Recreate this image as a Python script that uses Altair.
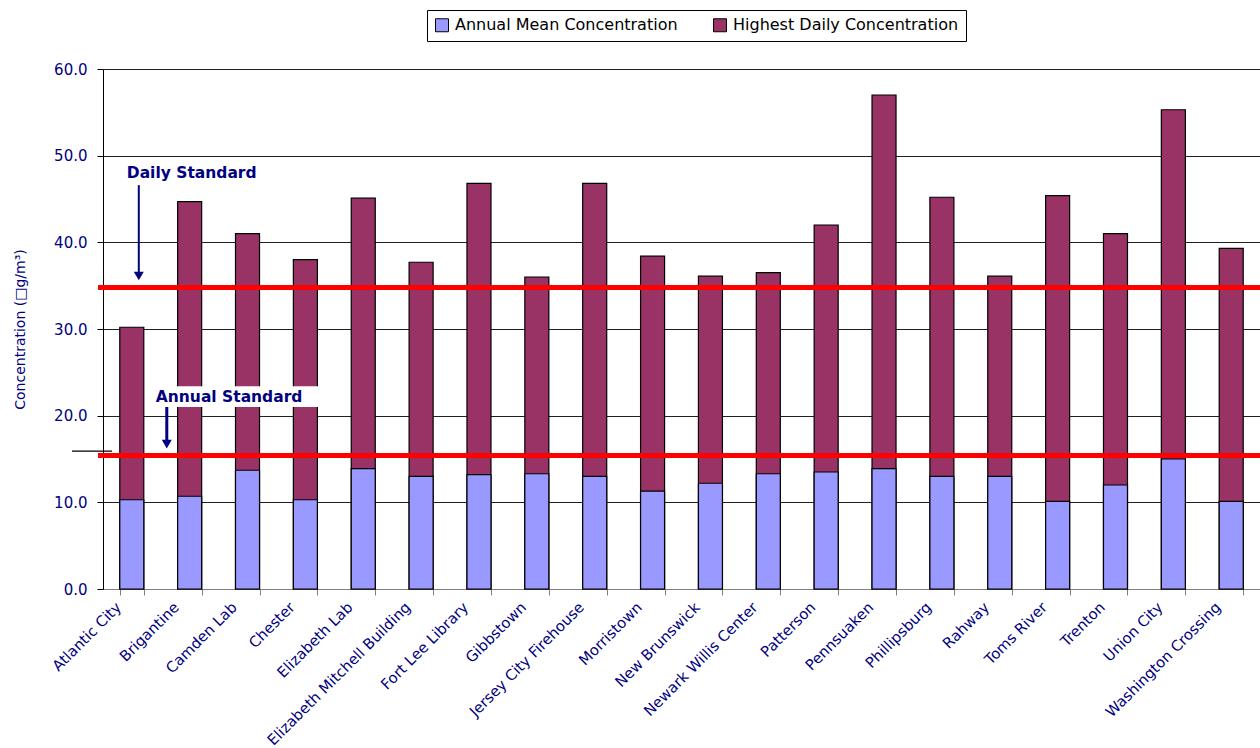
import altair as alt
import pandas as pd

sites = ["Atlantic City", "Brigantine", "Camden Lab", "Chester", "Elizabeth Lab",
         "Elizabeth Mitchell Building", "Fort Lee Library", "Gibbstown",
         "Jersey City Firehouse", "Morristown", "New Brunswick", "Newark Willis Center",
         "Patterson", "Pennsuaken", "Phillipsburg", "Rahway", "Toms River", "Trenton",
         "Union City", "Washington Crossing"]
annual_mean = [10.3, 10.7, 13.7, 10.3, 13.9, 13.0, 13.2, 13.3, 13.0, 11.3,
               12.2, 13.3, 13.5, 13.9, 13.0, 13.0, 10.1, 12.0, 15.0, 10.1]
highest_daily = [30.2, 44.7, 41.0, 38.0, 45.1, 37.7, 46.8, 36.0, 46.8, 38.4,
                 36.1, 36.5, 42.0, 57.0, 45.2, 36.1, 45.4, 41.0, 55.3, 39.3]
series_names = ["Annual Mean Concentration", "Highest Daily Concentration"]
series_colors = ["#9999FF", "#993366"]
standard_names = ["Daily Standard", "Annual Standard"]
standard_values = [34.8, 15.4]
y_ticks = [0, 10, 20, 30, 40, 50, 60]

NAVY = "#000080"
FONT = "DejaVu Sans"

rows = []
for s, v in zip(sites, highest_daily):
    rows.append({"site": s, "series": series_names[1], "value": v})
for s, v in zip(sites, annual_mean):
    rows.append({"site": s, "series": series_names[0], "value": v})
df = pd.DataFrame(rows)

x_enc = alt.X("site:N", sort=sites, scale=alt.Scale(paddingInner=0.585, paddingOuter=0.29),
              axis=alt.Axis(title=None, labelAngle=-45, labelAlign="right", labelBaseline="middle",
                            labelFontSize=14.8, labelColor=NAVY, labelFont=FONT, labelPadding=10,
                            labelOffset=-13, tickBand="extent", tickSize=6, tickColor="#808080",
                            domainColor="#808080", labelLimit=400, labelOverlap=False))
y_scale = alt.Scale(domain=[0, 60], nice=False)
y_enc = alt.Y("value:Q", scale=y_scale, stack=None,
              axis=alt.Axis(title="Concentration (\u25a1g/m\u00b3)", values=y_ticks, format=".1f",
                            labelFontSize=15, labelColor=NAVY, labelFont=FONT, labelPadding=10,
                            titleFontSize=14, titleColor=NAVY, titleFont=FONT,
                            titleFontWeight="normal", titlePadding=26,
                            tickSize=6, tickColor="#000", domainColor="#000",
                            grid=True, gridColor="#202020", gridWidth=1))

bars = alt.Chart(df).mark_bar(stroke="black", strokeWidth=1.2).encode(
    x=x_enc, y=y_enc,
    color=alt.Color("series:N", scale=alt.Scale(domain=series_names, range=series_colors),
                    legend=alt.Legend(title=None, orient="none", legendX=324, legendY=-59,
                                      direction="horizontal", symbolType="square",
                                      symbolSize=169, symbolStrokeColor="black",
                                      symbolStrokeWidth=1, labelFontSize=16, labelFont=FONT,
                                      labelColor="black", strokeColor="black", padding=7,
                                      columnPadding=33, labelOffset=5, labelLimit=400,
                                      fillColor="white")),
)

std_df = pd.DataFrame({"name": standard_names, "value": standard_values})
std_rules = alt.Chart(std_df).mark_rule(color="#FF0000", strokeWidth=5).encode(
    y=alt.Y("value:Q", scale=y_scale), x=alt.value(-5), x2=alt.value(1157))

# small stray tick on the left of the axis
stray = alt.Chart(pd.DataFrame({"v": [15.9]})).mark_rule(color="black", strokeWidth=1.2).encode(
    y=alt.Y("v:Q", scale=y_scale), x=alt.value(-31), x2=alt.value(9))

# annotation: white box behind "Annual Standard"
ann_box = alt.Chart(pd.DataFrame({"y1": [21.0], "y2": [23.4]})).mark_rect(color="white").encode(
    x=alt.value(48), x2=alt.value(215), y=alt.Y("y1:Q", scale=y_scale), y2="y2:Q")

ann_text_df = pd.DataFrame({"label": standard_names, "site": ["Atlantic City", "Atlantic City"],
                            "y": [48.0, 22.2]})
ann_text1 = alt.Chart(ann_text_df.iloc[[0]]).mark_text(
    align="left", baseline="middle", fontWeight="bold", fontSize=15.5, font=FONT, color=NAVY, dx=-5
).encode(x=alt.X("site:N", sort=sites), y=alt.Y("y:Q", scale=y_scale), text="label:N")
ann_text2 = alt.Chart(ann_text_df.iloc[[1]]).mark_text(
    align="left", baseline="middle", fontWeight="bold", fontSize=15.5, font=FONT, color=NAVY, dx=24
).encode(x=alt.X("site:N", sort=sites), y=alt.Y("y:Q", scale=y_scale), text="label:N")

arrow_df = pd.DataFrame({"site": ["Atlantic City", "Atlantic City"], "y1": [46.6, 21.0],
                         "y2": [36.0, 16.6]})
arrow1 = alt.Chart(arrow_df.iloc[[0]]).mark_rule(color=NAVY, strokeWidth=2, xOffset=7).encode(
    x=alt.X("site:N", sort=sites), y=alt.Y("y1:Q", scale=y_scale), y2="y2:Q")
head1 = alt.Chart(arrow_df.iloc[[0]]).mark_point(shape="triangle-down", filled=True, color=NAVY,
                                                 size=100, opacity=1, xOffset=7, yOffset=-1).encode(
    x=alt.X("site:N", sort=sites), y=alt.Y("y2:Q", scale=y_scale))
arrow2 = alt.Chart(arrow_df.iloc[[1]]).mark_rule(color=NAVY, strokeWidth=3, xOffset=35).encode(
    x=alt.X("site:N", sort=sites), y=alt.Y("y1:Q", scale=y_scale), y2="y2:Q")
head2 = alt.Chart(arrow_df.iloc[[1]]).mark_point(shape="triangle-down", filled=True, color=NAVY,
                                                 size=100, opacity=1, xOffset=35, yOffset=-1).encode(
    x=alt.X("site:N", sort=sites), y=alt.Y("y2:Q", scale=y_scale))

chart = alt.layer(bars, ann_box, std_rules, stray, ann_text1, ann_text2,
                  arrow1, head1, arrow2, head2).properties(
    width=1157, height=520,
    autosize=alt.AutoSizeParams(type="none"),
    padding={"left": 103, "top": 69, "right": 0, "bottom": 159},
).configure_view(stroke=None)

chart.save("out.html", embed_options={"renderer": "svg", "actions": False})
